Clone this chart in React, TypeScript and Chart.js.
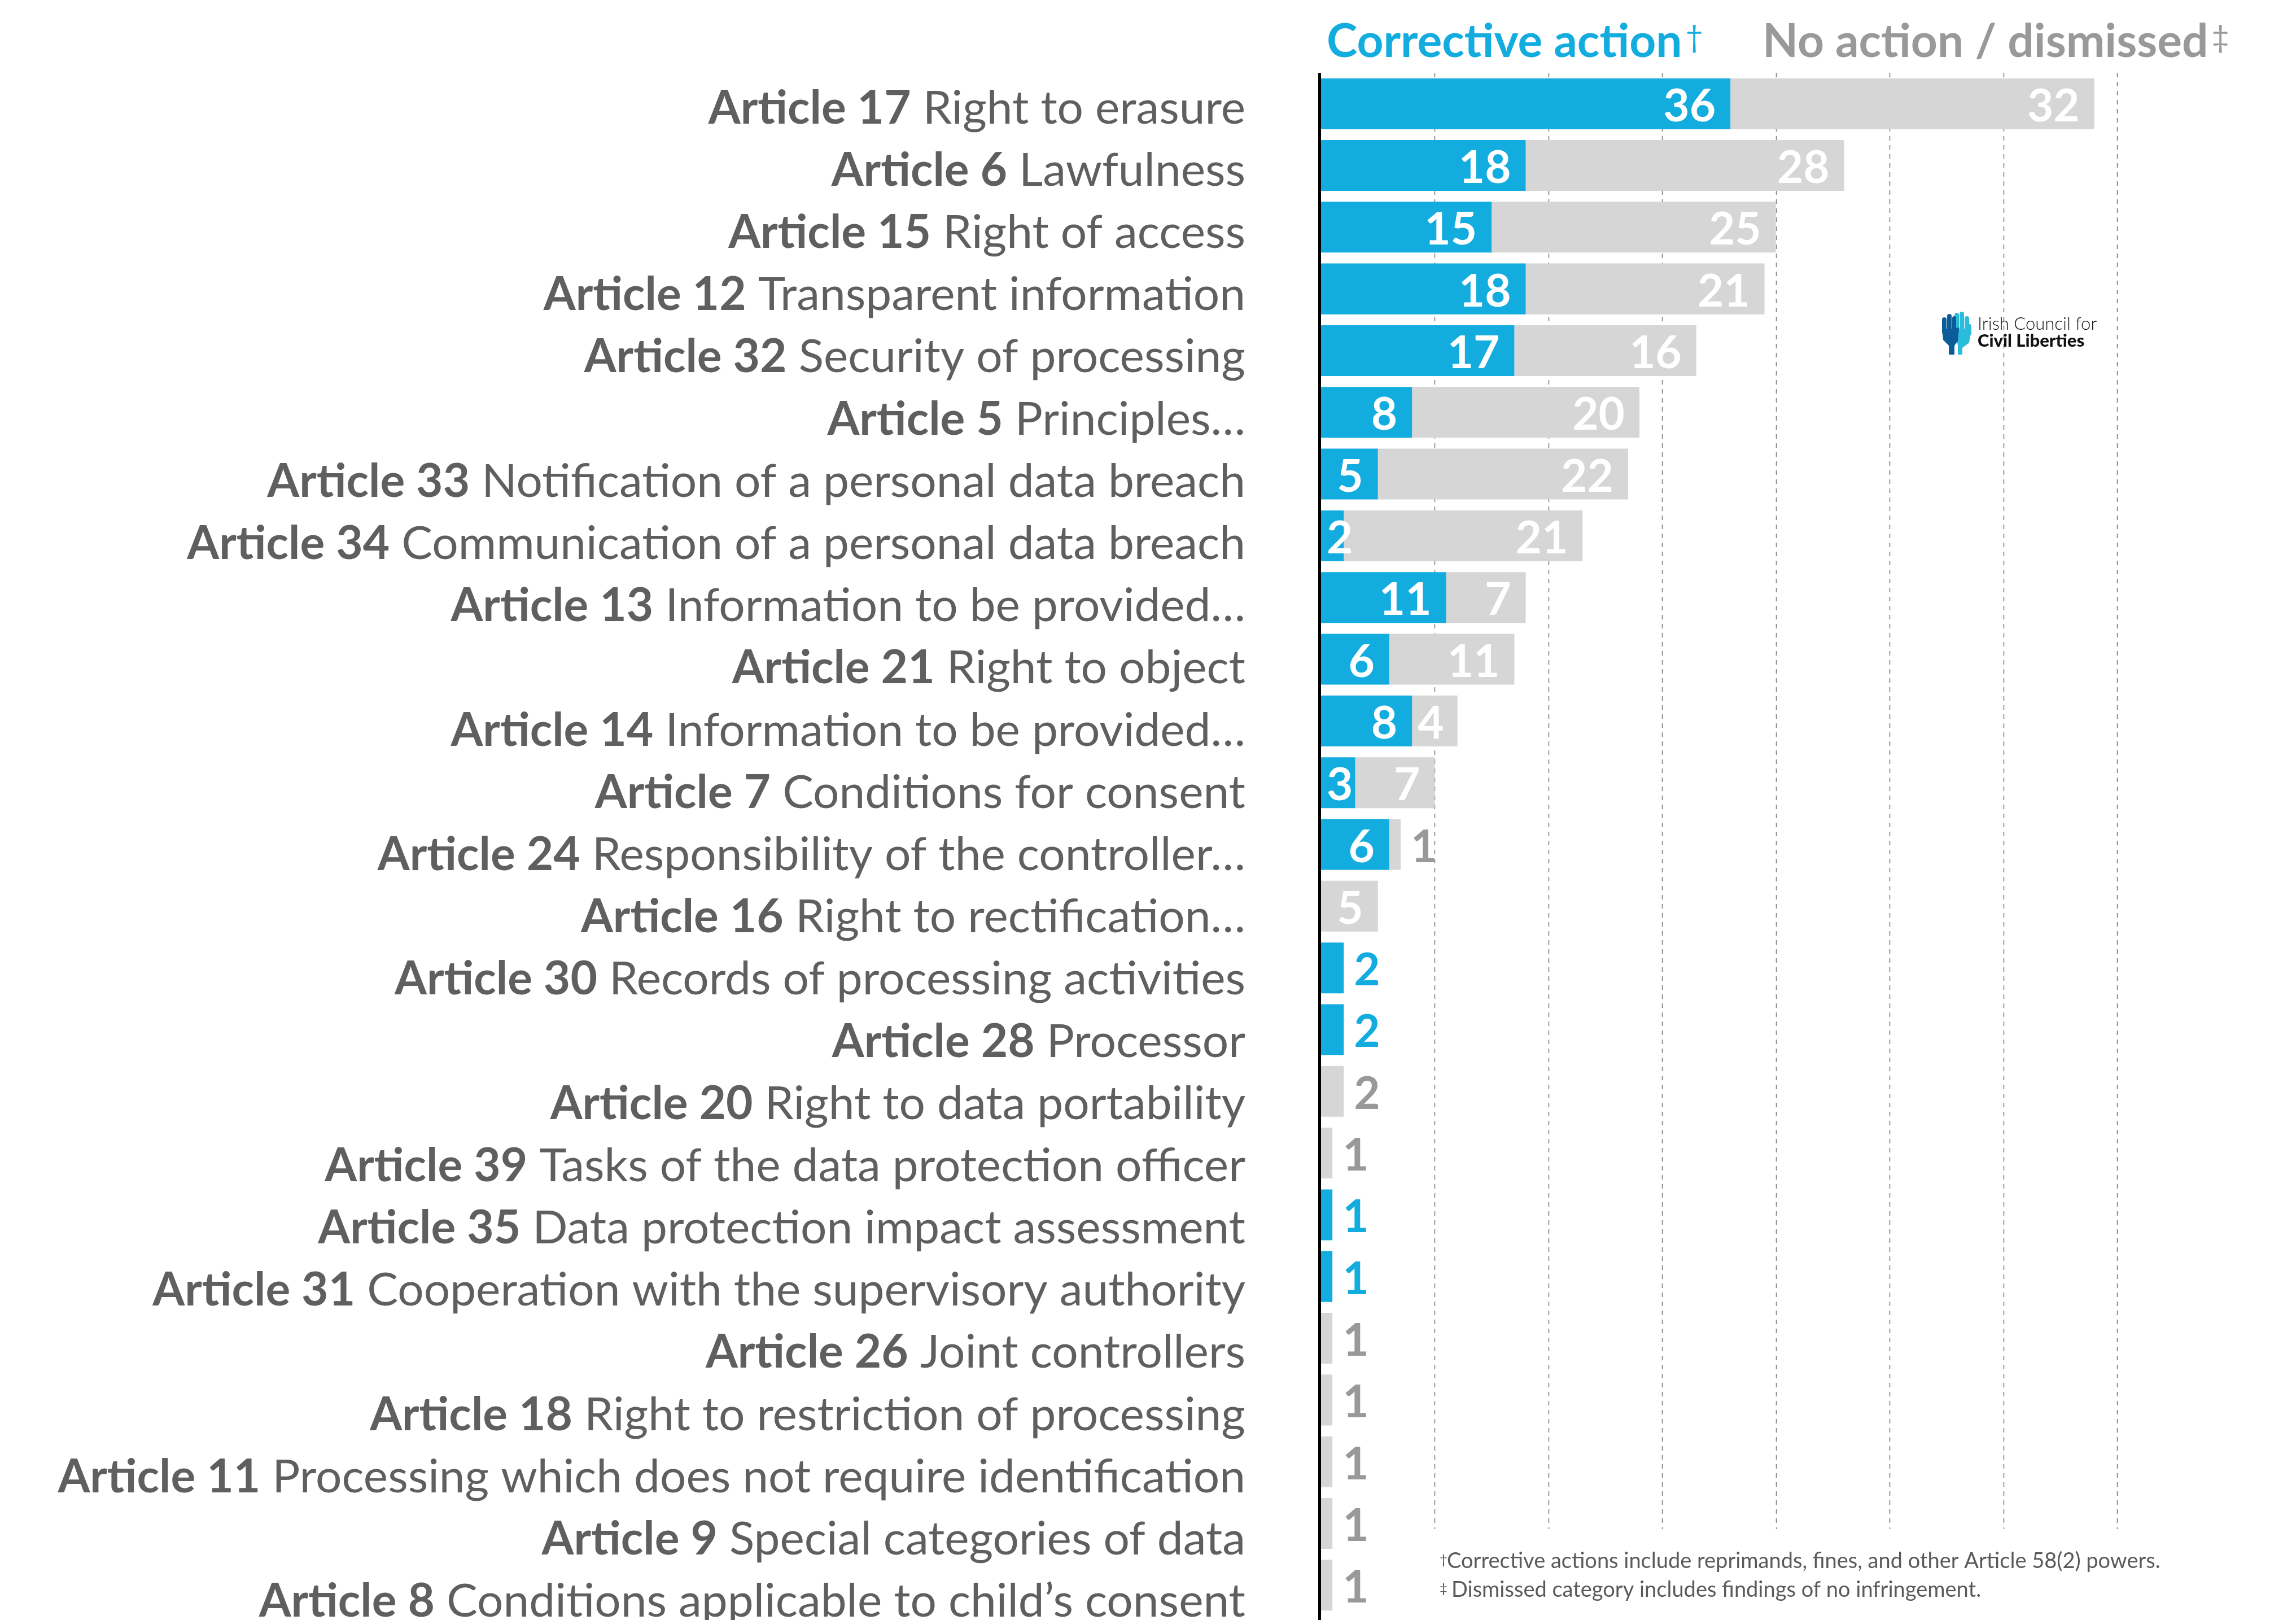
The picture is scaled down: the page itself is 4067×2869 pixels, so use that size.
import React, { useEffect, useRef } from "react";
import { Chart, registerables } from "chart.js";

Chart.register(...registerables);

const articleNumbers = [
  "Article 17", "Article 6", "Article 15", "Article 12", "Article 32", "Article 5",
  "Article 33", "Article 34", "Article 13", "Article 21", "Article 14", "Article 7",
  "Article 24", "Article 16", "Article 30", "Article 28", "Article 20", "Article 39",
  "Article 35", "Article 31", "Article 26", "Article 18", "Article 11", "Article 9", "Article 8",
];
const articleTitles = [
  "Right to erasure", "Lawfulness", "Right of access", "Transparent information",
  "Security of processing", "Principles…", "Notification of a personal data breach",
  "Communication of a personal data breach", "Information to be provided…", "Right to object",
  "Information to be provided…", "Conditions for consent", "Responsibility of the controller…",
  "Right to rectification…", "Records of processing activities", "Processor",
  "Right to data portability", "Tasks of the data protection officer",
  "Data protection impact assessment", "Cooperation with the supervisory authority",
  "Joint controllers", "Right to restriction of processing",
  "Processing which does not require identification", "Special categories of data",
  "Conditions applicable to child’s consent",
];
const correctiveAction = [36, 18, 15, 18, 17, 8, 5, 2, 11, 6, 8, 3, 6, 0, 2, 2, 0, 0, 1, 1, 0, 0, 0, 0, 0];
const noAction = [32, 28, 25, 21, 16, 20, 22, 21, 7, 11, 4, 7, 1, 5, 0, 0, 2, 1, 0, 0, 1, 1, 1, 1, 1];
const gridTicks = [10, 20, 30, 40, 50, 60, 70];
const legendLabels = ["Corrective action", "No action / dismissed"];
const legendMarks = ["†", "‡"];
const footnotes = [
  "Corrective actions include reprimands, fines, and other Article 58(2) powers.",
  "Dismissed category includes findings of no infringement.",
];
const logoLines = ["Irish Council for", "Civil Liberties"];

const BLUE = "#12ACDF";
const GRAY_BAR = "#D6D6D6";
const GRAY_TEXT = "#999999";
const LABEL_COLOR = "#5F5F5F";
const FONT = "Lato";

const overlayPlugin = {
  id: "overlay",
  beforeDatasetsDraw(chart: any) {
    const { ctx, chartArea, scales } = chart;
    const xs = scales.x;
    const ys = scales.y;
    const yEnd = ys.getPixelForValue(23) + 10;
    ctx.save();
    ctx.strokeStyle = "#7a7a7a";
    ctx.lineWidth = 1.5;
    ctx.setLineDash([8, 8]);
    for (const t of gridTicks) {
      const x = Math.round(xs.getPixelForValue(t)) + 0.5;
      ctx.beginPath();
      ctx.moveTo(x, chartArea.top);
      ctx.lineTo(x, yEnd);
      ctx.stroke();
    }
    ctx.restore();
  },
  afterDatasetsDraw(chart: any) {
    const { ctx, chartArea, scales } = chart;
    const ys = scales.y;
    ctx.save();
    // axis line
    ctx.fillStyle = "#000";
    ctx.fillRect(chartArea.left - 5, chartArea.top, 5, chart.height - chartArea.top);

    // value labels
    ctx.font = `bold 80px ${FONT}`;
    ctx.textBaseline = "alphabetic";
    [correctiveAction, noAction].forEach((vals, di) => {
      const meta = chart.getDatasetMeta(di);
      vals.forEach((v, i) => {
        if (!v) return;
        const bar: any = meta.data[i];
        const txt = String(v);
        const w = ctx.measureText(txt).width;
        const y = bar.y + 31;
        const inside = v >= 3 || (di === 0 && noAction[i] > 0 && v >= 2);
        if (inside) {
          ctx.fillStyle = "#FFFFFF";
          ctx.textAlign = "right";
          const xr = Math.max(bar.x - 26, bar.base + w + 10);
          ctx.fillText(txt, xr, y);
        } else {
          ctx.fillStyle = di === 0 ? BLUE : GRAY_TEXT;
          ctx.textAlign = "left";
          ctx.fillText(txt, bar.x + 18, y);
        }
      });
    });

    // category labels
    const xRight = chartArea.left - 134;
    ctx.fillStyle = LABEL_COLOR;
    ctx.textAlign = "left";
    articleNumbers.forEach((num, i) => {
      const y = ys.getPixelForValue(i) + 35 + i * 0.87;
      ctx.font = `82px ${FONT}`;
      const rest = " " + articleTitles[i];
      const wR = ctx.measureText(rest).width;
      ctx.fillText(rest, xRight - wR, y);
      ctx.font = `bold 82px ${FONT}`;
      const wB = ctx.measureText(num).width;
      ctx.fillText(num, xRight - wR - wB, y);
    });

    // legend
    const legendColors = [BLUE, GRAY_TEXT];
    const legendX = [chartArea.left + 10, 3122];
    legendLabels.forEach((lab, k) => {
      ctx.fillStyle = legendColors[k];
      ctx.font = `bold 82px ${FONT}`;
      ctx.fillText(lab, legendX[k], 101);
      const w = ctx.measureText(lab).width;
      ctx.font = `54px ${FONT}`;
      ctx.fillText(legendMarks[k], legendX[k] + w + 6, 84);
    });

    // footnotes
    ctx.fillStyle = "#5A5A5A";
    footnotes.forEach((f, k) => {
      const by = 2777 + k * 51;
      ctx.font = `24px ${FONT}`;
      ctx.fillText(legendMarks[k], 2550, by - 7);
      ctx.font = `38px ${FONT}`;
      ctx.fillText(f, 2563 + k * 8, by);
    });

    // logo
    const lxo = 3440, lyo = 552;
    ctx.fillStyle = "#2BBCDC";
    ctx.beginPath();
    ctx.roundRect(lxo + 22, lyo + 2, 8, 34, 4);
    ctx.roundRect(lxo + 31, lyo + 0, 8, 36, 4);
    ctx.roundRect(lxo + 40, lyo + 8, 8, 30, 4);
    ctx.roundRect(lxo + 46, lyo + 22, 6, 20, 3);
    ctx.fill();
    ctx.beginPath();
    ctx.moveTo(lxo + 22, lyo + 30);
    ctx.lineTo(lxo + 52, lyo + 30);
    ctx.lineTo(lxo + 48, lyo + 55);
    ctx.lineTo(lxo + 36, lyo + 64);
    ctx.lineTo(lxo + 36, lyo + 76);
    ctx.lineTo(lxo + 28, lyo + 76);
    ctx.lineTo(lxo + 28, lyo + 60);
    ctx.closePath();
    ctx.fill();
    ctx.fillStyle = "#0B5C99";
    ctx.beginPath();
    ctx.roundRect(lxo + 0, lyo + 10, 8, 30, 4);
    ctx.roundRect(lxo + 9, lyo + 4, 8, 32, 4);
    ctx.roundRect(lxo + 18, lyo + 8, 7, 28, 3.5);
    ctx.fill();
    ctx.beginPath();
    ctx.moveTo(lxo + 0, lyo + 32);
    ctx.lineTo(lxo + 30, lyo + 28);
    ctx.lineTo(lxo + 28, lyo + 52);
    ctx.lineTo(lxo + 22, lyo + 60);
    ctx.lineTo(lxo + 22, lyo + 76);
    ctx.lineTo(lxo + 12, lyo + 76);
    ctx.lineTo(lxo + 12, lyo + 60);
    ctx.lineTo(lxo + 2, lyo + 50);
    ctx.closePath();
    ctx.fill();
    ctx.fillStyle = "#111111";
    ctx.font = `300 31px ${FONT}`;
    ctx.fillText(logoLines[0], 3503, 584);
    ctx.font = `900 31px ${FONT}`;
    ctx.fillText(logoLines[1], 3503, 614);
    ctx.restore();
  },
};

export default function App() {
  const canvasRef = useRef<HTMLCanvasElement | null>(null);
  useEffect(() => {
    if (!canvasRef.current) return;
    const chart = new Chart(canvasRef.current, {
      type: "bar",
      data: {
        labels: articleNumbers,
        datasets: [
          {
            label: legendLabels[0],
            data: correctiveAction,
            backgroundColor: BLUE,
            borderWidth: 0,
            barPercentage: 0.8235,
            categoryPercentage: 1,
          },
          {
            label: legendLabels[1],
            data: noAction,
            backgroundColor: GRAY_BAR,
            borderWidth: 0,
            barPercentage: 0.8235,
            categoryPercentage: 1,
          },
        ],
      },
      options: {
        indexAxis: "y",
        animation: false,
        responsive: true,
        maintainAspectRatio: false,
        layout: { padding: { left: 2340, right: 317, top: 129, bottom: 7 } },
        scales: {
          x: { stacked: true, min: 0, max: 70, display: false },
          y: { stacked: true, display: false },
        },
        plugins: { legend: { display: false }, tooltip: { enabled: false } },
      },
      plugins: [overlayPlugin],
    });
    return () => chart.destroy();
  }, []);
  return (
    <div style={{ position: "fixed", left: 0, top: 0, width: "100vw", height: "100vh", background: "#fff" }}>
      <canvas ref={canvasRef} />
    </div>
  );
}
